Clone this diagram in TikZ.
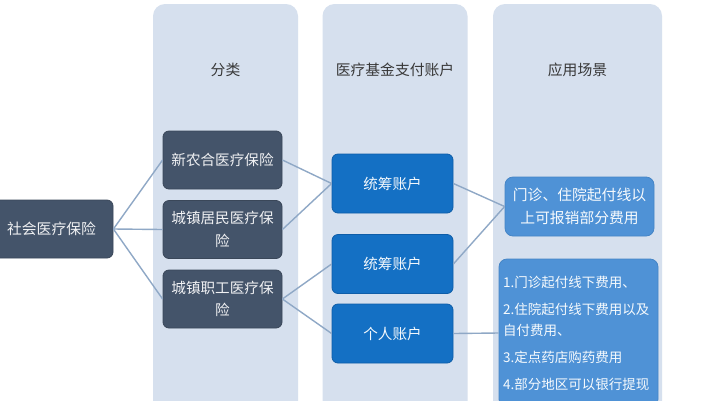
\documentclass[tikz,border=0pt]{standalone}
\usepackage{fontspec}
\setmainfont{Noto Sans CJK SC}
\usetikzlibrary{positioning}
\definecolor{panelblue}{HTML}{D6E0EE}
\definecolor{slate}{HTML}{44546A}
\definecolor{slateedge}{HTML}{3A4759}
\definecolor{deepblue}{HTML}{1470C4}
\definecolor{deepedge}{HTML}{0E5DA8}
\definecolor{softblue}{HTML}{4F92D6}
\definecolor{softedge}{HTML}{4585C6}
\definecolor{linkgray}{HTML}{8FA8C6}
\definecolor{headtext}{HTML}{383838}
\tikzset{
  panel/.style={fill=panelblue,rounded corners=12pt,minimum width=145pt,minimum height=416pt,inner sep=0pt},
  head/.style={text=headtext,font=\fontsize{14.8}{17}\selectfont},
  insbox/.style={fill=slate,draw=slateedge,line width=0.8pt,rounded corners=6pt,text=white!92!slate,
    minimum width=119pt,minimum height=58pt,align=center,font=\fontsize{14.6}{22.5}\selectfont},
  acctbox/.style={fill=deepblue,draw=deepedge,line width=0.8pt,rounded corners=6pt,text=white!95!deepblue,
    minimum width=121pt,minimum height=59pt,font=\fontsize{14.6}{17}\selectfont},
  usebox/.style={fill=softblue,draw=softedge,line width=0.8pt,rounded corners=8pt,text=white!95!softblue},
  link/.style={draw=linkgray,line width=1.4pt}
}
\begin{document}
\begin{tikzpicture}[x=1pt,y=-1pt]
  \useasboundingbox[fill=white] (0,0) rectangle (714,400);
  % columns
  \node[panel] (colsort) at (225.5,212) {};
  \node[panel] (colacct) at (395,212) {};
  \node[panel,minimum width=169pt] (coluse) at (577.5,212) {};
  \node[head] (hsort) at (225.5,70) {分类};
  \node[head] (hacct) at (395,70) {医疗基金支付账户};
  \node[head] (huse) at (577.5,70) {应用场景};
  % root
  \node[insbox,minimum width=123pt,font=\fontsize{14.8}{22.5}\selectfont] (root) at (51.5,229) {社会医疗保险};
  % kinds of insurance
  \node[insbox] (nrcms) at (222.5,160) {新农合医疗保险};
  \node[insbox] (urban) at (222.5,229.5) {城镇居民医疗保\\险};
  \node[insbox] (staff) at (222.5,299) {城镇职工医疗保\\险};
  % accounts
  \node[acctbox] (pool1) at (392.5,183.5) {统筹账户};
  \node[acctbox] (pool2) at (392.5,264) {统筹账户};
  \node[acctbox] (own) at (392.5,333.5) {个人账户};
  % uses
  \node[usebox,minimum width=149pt,minimum height=59pt,align=center,
    font=\fontsize{14.8}{23}\selectfont] (above) at (579.5,206.5) {门诊、住院起付线以\\上可报销部分费用};
  \node[usebox,minimum width=159pt,minimum height=148pt,text width=151pt,inner xsep=4pt,align=left,
    font=\fontsize{13.5}{21}\selectfont] (below) at (578.5,333)
    {1.门诊起付线下费用、\\[6pt]
     2.住院起付线下费用以及\\自付费用、\\[6pt]
     3.定点药店购药费用\\[6pt]
     4.部分地区可以银行提现};
  % links
  \draw[link] (root.east) -- (nrcms.west);
  \draw[link] (root.east) -- (urban.west);
  \draw[link] (root.east) -- (staff.west);
  \draw[link] (nrcms.east) -- (pool1.west);
  \draw[link] (urban.east) -- (pool1.west);
  \draw[link] (staff.east) -- (pool2.west);
  \draw[link] (staff.east) -- (own.west);
  \draw[link] (pool1.east) -- (above.west);
  \draw[link] (pool2.east) -- (above.west);
  \draw[link] (own.east) -- (below.west);
\end{tikzpicture}
\end{document}
